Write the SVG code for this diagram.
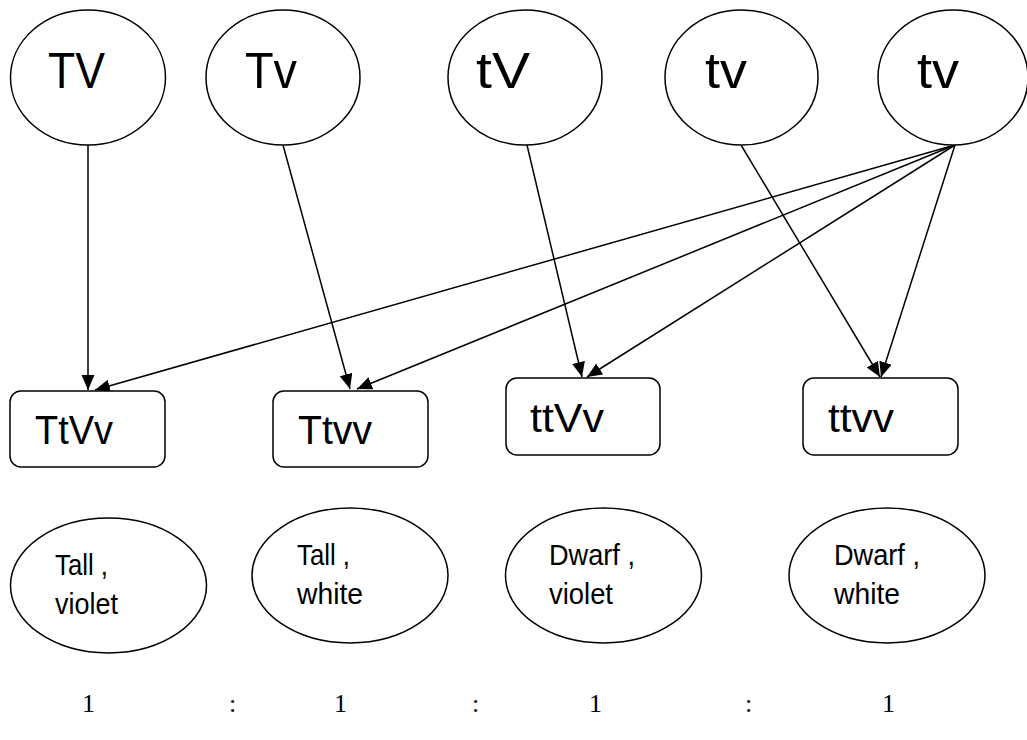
<svg xmlns="http://www.w3.org/2000/svg" width="1027" height="740" viewBox="0 0 1027 740">
<style>
.node{fill:#fff;stroke:#000;stroke-width:1.5}
.t{font-family:"Liberation Sans",Arial,sans-serif;fill:#000}
.big{font-size:50px}
.mid{font-size:40px}
.sm{font-size:30px}
.num{font-family:"Liberation Serif","Times New Roman",serif;font-size:26px;fill:#000}
.conn line{stroke:#000;stroke-width:1.5;fill:none}
</style>
<defs>
<marker id="ah" markerUnits="userSpaceOnUse" markerWidth="16" markerHeight="14" refX="15" refY="6.5" orient="auto">
<path d="M0,0 L15,6.5 L0,13 z" fill="#000"/>
</marker>
</defs>
<rect width="1027" height="740" fill="#fff"/>
<g id="connectors" class="conn">
<line x1="88" y1="145" x2="88" y2="390" marker-end="url(#ah)"/>
<line x1="283" y1="145" x2="350" y2="389" marker-end="url(#ah)"/>
<line x1="527" y1="145" x2="582" y2="377" marker-end="url(#ah)"/>
<line x1="741" y1="145" x2="880" y2="377" marker-end="url(#ah)"/>
<line x1="955" y1="145" x2="95" y2="390" marker-end="url(#ah)"/>
<line x1="955" y1="145" x2="357" y2="389" marker-end="url(#ah)"/>
<line x1="955" y1="145" x2="587" y2="377" marker-end="url(#ah)"/>
<line x1="955" y1="145" x2="881" y2="377" marker-end="url(#ah)"/>
</g>
<g id="p1"><ellipse class="node" cx="88" cy="77.5" rx="77.5" ry="67.5"/><text class="t big" x="48" y="88" textLength="57" lengthAdjust="spacingAndGlyphs">TV</text></g>
<g id="p2"><ellipse class="node" cx="283" cy="77.5" rx="77" ry="67.5"/><text class="t big" x="245" y="88" textLength="52" lengthAdjust="spacingAndGlyphs">Tv</text></g>
<g id="p3"><ellipse class="node" cx="525" cy="77.5" rx="77" ry="67.5"/><text class="t big" x="476" y="88" textLength="54" lengthAdjust="spacingAndGlyphs">tV</text></g>
<g id="p4"><ellipse class="node" cx="741.5" cy="77.5" rx="76.5" ry="67.5"/><text class="t big" x="705" y="88" textLength="42" lengthAdjust="spacingAndGlyphs">tv</text></g>
<g id="p5"><ellipse class="node" cx="953" cy="77.5" rx="75" ry="67.5"/><text class="t big" x="917" y="88" textLength="42" lengthAdjust="spacingAndGlyphs">tv</text></g>
<g id="g1"><rect class="node" x="10" y="391" width="155" height="76" rx="11"/><text class="t mid" x="35" y="444" textLength="78" lengthAdjust="spacingAndGlyphs">TtVv</text></g>
<g id="g2"><rect class="node" x="273" y="391" width="155" height="76" rx="11"/><text class="t mid" x="298" y="444" textLength="74" lengthAdjust="spacingAndGlyphs">Ttvv</text></g>
<g id="g3"><rect class="node" x="506" y="378" width="154" height="77" rx="11"/><text class="t mid" x="530" y="432" textLength="74" lengthAdjust="spacingAndGlyphs">ttVv</text></g>
<g id="g4"><rect class="node" x="803" y="378" width="155" height="77" rx="11"/><text class="t mid" x="828" y="432" textLength="66" lengthAdjust="spacingAndGlyphs">ttvv</text></g>
<g id="ph1"><ellipse class="node" cx="108.5" cy="585.5" rx="98" ry="67.5"/><text class="t sm" x="55" y="575" textLength="53" lengthAdjust="spacingAndGlyphs">Tall ,</text><text class="t sm" x="55" y="614" textLength="63" lengthAdjust="spacingAndGlyphs">violet</text></g>
<g id="ph2"><ellipse class="node" cx="350" cy="575.5" rx="98" ry="67.5"/><text class="t sm" x="297" y="565" textLength="53" lengthAdjust="spacingAndGlyphs">Tall ,</text><text class="t sm" x="297" y="604" textLength="66" lengthAdjust="spacingAndGlyphs">white</text></g>
<g id="ph3"><ellipse class="node" cx="603.5" cy="575.5" rx="98" ry="67.5"/><text class="t sm" x="549" y="565" textLength="86" lengthAdjust="spacingAndGlyphs">Dwarf ,</text><text class="t sm" x="549" y="604" textLength="64" lengthAdjust="spacingAndGlyphs">violet</text></g>
<g id="ph4"><ellipse class="node" cx="887" cy="575.5" rx="98" ry="67.5"/><text class="t sm" x="834" y="565" textLength="86" lengthAdjust="spacingAndGlyphs">Dwarf ,</text><text class="t sm" x="834" y="604" textLength="66" lengthAdjust="spacingAndGlyphs">white</text></g>
<g id="ratio">
<text class="num" x="82" y="712">1</text>
<text class="num" x="229" y="712">:</text>
<text class="num" x="334" y="712">1</text>
<text class="num" x="472" y="712">:</text>
<text class="num" x="589" y="712">1</text>
<text class="num" x="745" y="712">:</text>
<text class="num" x="882" y="712">1</text>
</g>
</svg>
